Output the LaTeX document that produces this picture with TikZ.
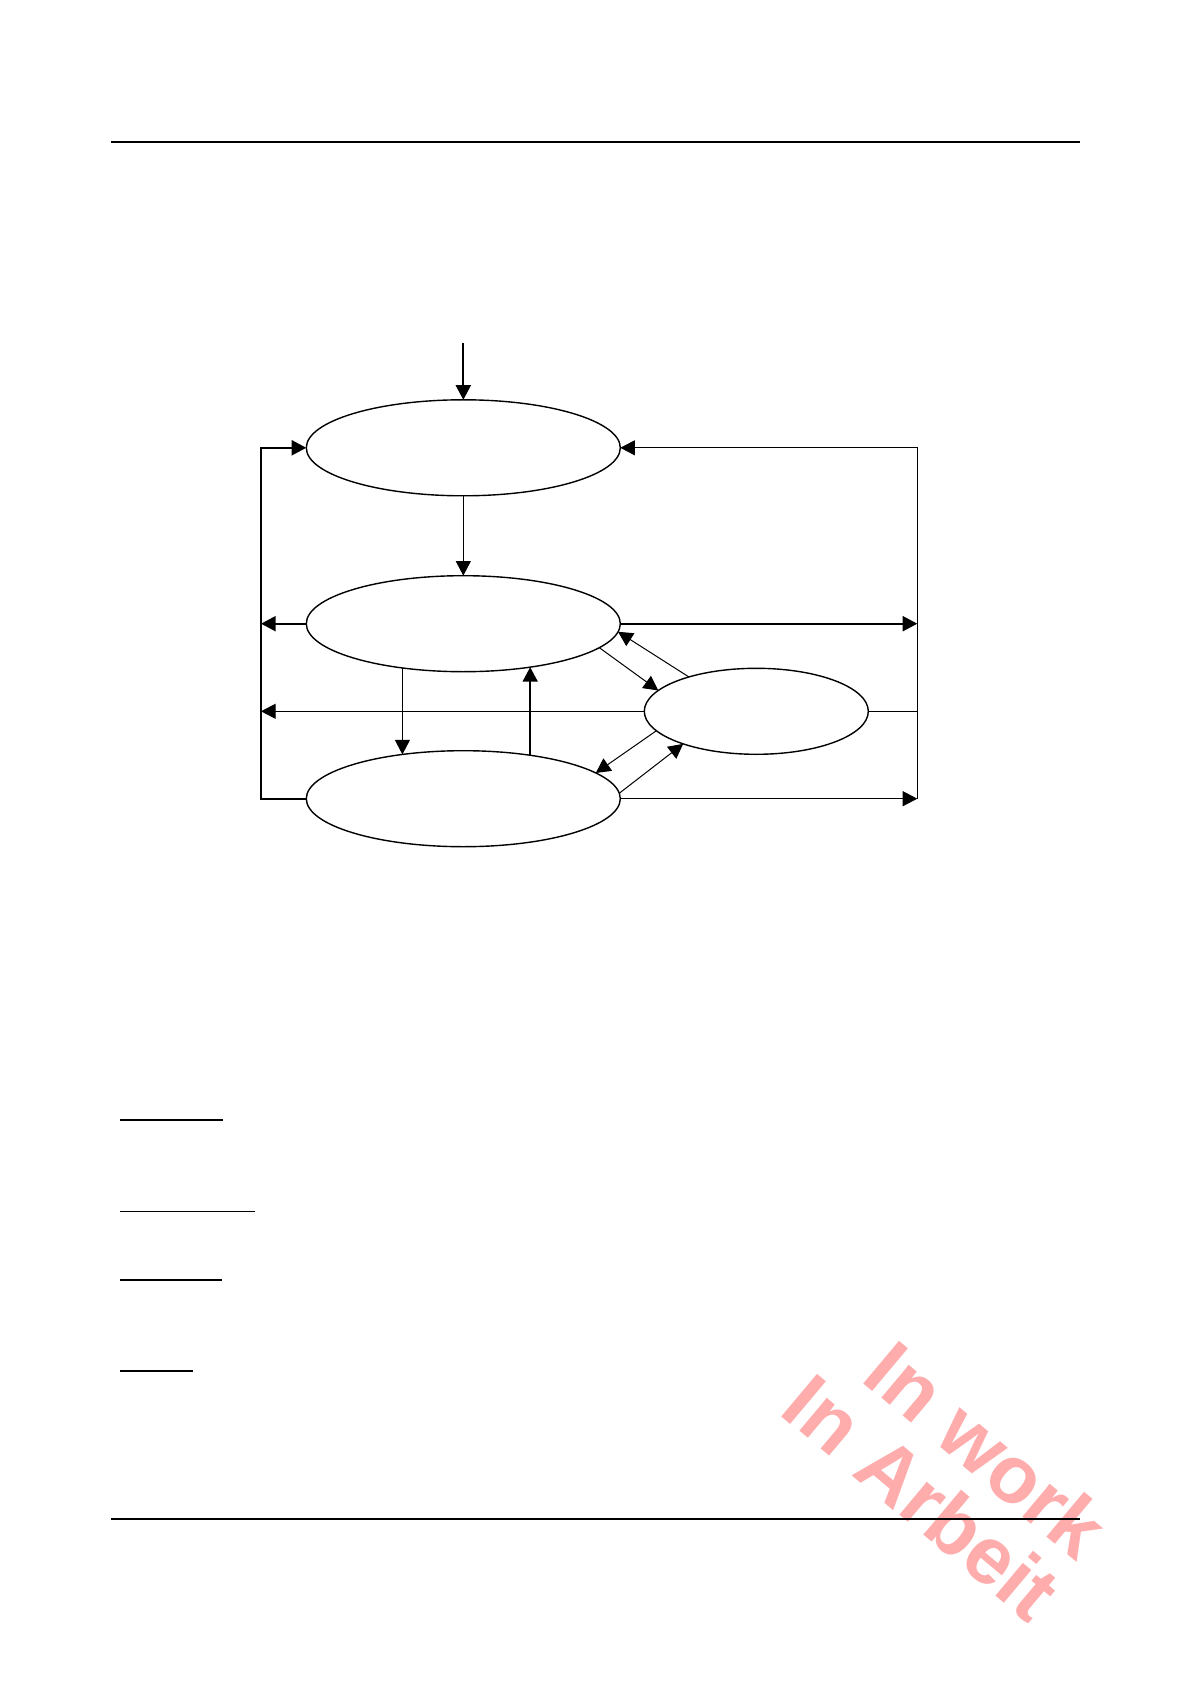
\documentclass[tikz,border=0pt]{standalone}
\usepackage{fontspec}
\newfontfamily\wmfont{Liberation Sans}
\usetikzlibrary{arrows.meta,shapes.geometric}
\definecolor{wmpink}{RGB}{255,172,172}
\tikzset{
  stbox/.style={draw, ellipse, line width=0.7pt, minimum width=157pt, minimum height=48pt, inner sep=0pt, outer sep=0pt},
  smallbox/.style={stbox, minimum width=112pt, minimum height=43pt},
  thinline/.style={line width=0.5pt},
  thickline/.style={line width=1pt},
  arr/.style={-{Triangle[length=7.3pt,width=7.5pt]}},
  hrule/.style={line width=1pt},
  hrulethin/.style={line width=0.5pt},
  wm/.style={text=wmpink, font=\wmfont\bfseries\fontsize{40.5}{40.5}\selectfont, rotate=-40, inner sep=0pt}
}
\begin{document}
\begin{tikzpicture}[x=0.5pt,y=-0.5pt]
\fill[white] (0,0) rectangle (1190,1684);
\useasboundingbox (0,0) rectangle (1190,1684);
% watermark
\node[wm] (wm1) at (987,1449) {In work};
\node[wm] (wm2) at (922.4,1496.8) {In Arbeit};
% page rules
\draw[hrule] (111,141.7) -- (1080,141.7);
\draw[hrule] (111,1519) -- (1080,1519);
% underlines
\draw[hrule] (120,1120) -- (222.7,1120);
\draw[hrulethin] (120,1211.7) -- (254.7,1211.7);
\draw[hrule] (120,1280) -- (222,1280);
\draw[hrule] (120,1370.7) -- (192.7,1370.7);
% states
\node[stbox] (top) at (463.3,447.8) {};
\node[stbox] (mid) at (463.3,623.7) {};
\node[stbox] (bot) at (463.3,798.7) {};
\node[smallbox] (rt) at (756.3,711.3) {};
% helper coordinates
\coordinate (entry) at (463.3,343);
\coordinate (lTop) at (261,447.8);
\coordinate (lMid) at (261,623.7);
\coordinate (lRt) at (261,711.3);
\coordinate (lBot) at (261,798.7);
\coordinate (rTop) at (917.3,447.8);
\coordinate (rMid) at (917.3,623.7);
\coordinate (rRt) at (917.3,711.3);
\coordinate (rBot) at (917.3,798.7);
% connectors
\draw[thickline,arr] (entry) -- (top.north);
\draw[thinline,arr] (top.south) -- (mid.north);
\draw[thickline,arr] (bot.west) -- (lBot) -- (lTop) -- (top.west);
\draw[thickline,arr] (mid.west) -- (lMid);
\draw[thinline,arr] (rt.west) -- (lRt);
\draw[thickline,arr] (mid.east) -- (rMid);
\draw[thinline,arr] (bot.east) -- (rBot);
\draw[thinline] (rt.east) -- (rRt);
\draw[thinline,arr] (rBot) -- (rTop) -- (top.east);
\draw[thinline,arr] (mid.-144.1) -- (bot.144.1);
\draw[thickline,arr] (bot.33.1) -- (mid.-33.1);
\draw[thinline,arr] (mid.-10.5) -- (rt.168);
\draw[thinline,arr] (rt.153) -- (mid.-3);
\draw[thinline,arr] (rt.191) -- (bot.11.2);
\draw[thinline,arr] (bot.2.6) -- (rt.204);
\end{tikzpicture}
\end{document}
